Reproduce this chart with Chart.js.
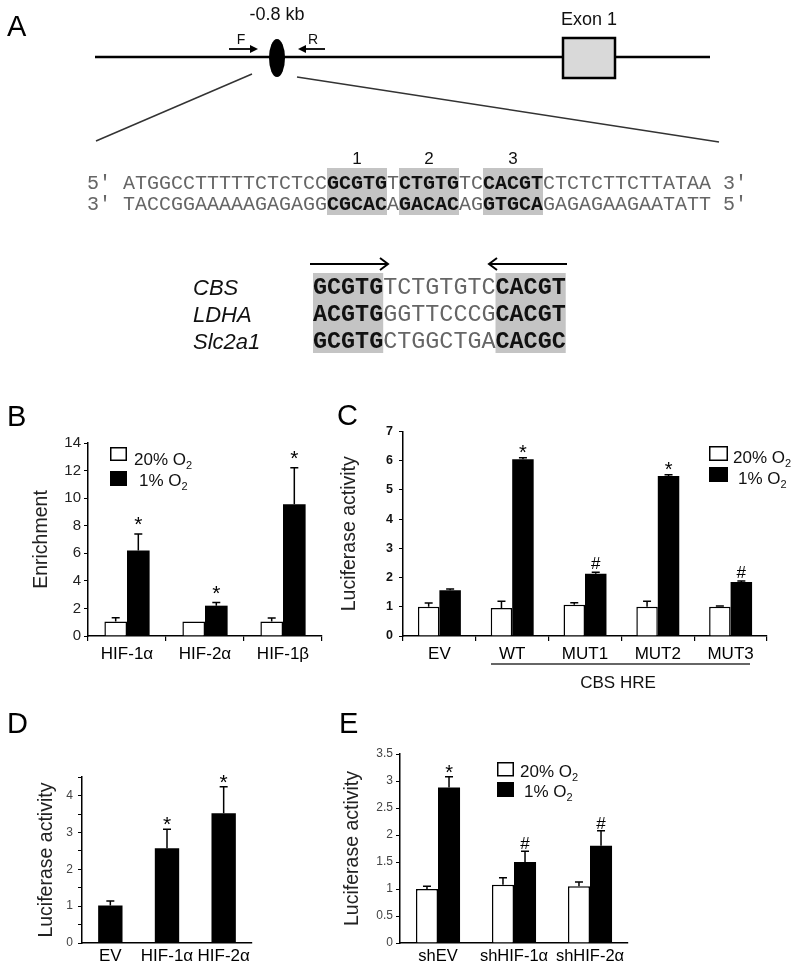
<!DOCTYPE html>
<html>
<head>
<meta charset="utf-8">
<title>CBS HRE</title>
<script src="https://cdn.jsdelivr.net/npm/chart.js@4.4.1/dist/chart.umd.min.js"></script>
<style>
  body { margin: 0; background: #fff; }
  #page { position: relative; width: 800px; height: 970px; overflow: hidden; font-family: "Liberation Sans", Arial, sans-serif; }
  #page canvas { position: absolute; }
  #overlay { position: absolute; left: 0; top: 0; pointer-events: none; }
</style>
</head>
<body>
<div id="page">
  <canvas id="chartB" width="302" height="239" style="left:26px;top:431px;width:302px;height:239px"></canvas>
  <canvas id="chartC" width="439" height="252" style="left:334px;top:418px;width:439px;height:252px"></canvas>
  <canvas id="chartD" width="227" height="205" style="left:31px;top:765px;width:227px;height:205px"></canvas>
  <canvas id="chartE" width="297" height="228" style="left:337px;top:742px;width:297px;height:228px"></canvas>

  <svg id="overlay" width="800" height="970" xmlns="http://www.w3.org/2000/svg">
    <!-- panel letters -->
    <g font-family="'Liberation Sans', Arial, sans-serif" font-size="29" fill="#000">
      <text x="7" y="36">A</text>
      <text x="7" y="426">B</text>
      <text x="337" y="425">C</text>
      <text x="7" y="733">D</text>
      <text x="339" y="733">E</text>
    </g>

    <!-- panel A: promoter map -->
    <g font-family="'Liberation Sans Narrow', 'Liberation Sans', Arial, sans-serif" fill="#111">
      <line x1="95" y1="57" x2="710" y2="57" stroke="#000" stroke-width="2.5"/>
      <ellipse cx="277" cy="58" rx="8" ry="19" fill="#000"/>
      <rect x="563" y="38" width="52" height="40" fill="#d9d9d9" stroke="#000" stroke-width="2.5"/>
      <text x="589" y="25" font-size="18" text-anchor="middle">Exon 1</text>
      <text x="277" y="20" font-size="18" text-anchor="middle">-0.8 kb</text>
      <line x1="229" y1="49" x2="252" y2="49" stroke="#000" stroke-width="1.8"/>
      <path d="M258 49 L250 45 L250 53 Z" fill="#000"/>
      <text x="241" y="44" font-size="14" text-anchor="middle">F</text>
      <line x1="325" y1="49" x2="304" y2="49" stroke="#000" stroke-width="1.8"/>
      <path d="M298 49 L306 45 L306 53 Z" fill="#000"/>
      <text x="313" y="44" font-size="14" text-anchor="middle">R</text>
      <line x1="252" y1="74" x2="96" y2="141" stroke="#333" stroke-width="1.5"/>
      <line x1="297" y1="77" x2="719" y2="142" stroke="#333" stroke-width="1.5"/>
      <g font-size="17" text-anchor="middle">
        <text x="357" y="164">1</text>
        <text x="429" y="164">2</text>
        <text x="513" y="164">3</text>
      </g>
    </g>
    <g id="seqTop"></g>
    <g id="seqBottom"></g>
    <g stroke="#000" stroke-width="2" fill="none">
      <line x1="310" y1="264" x2="388" y2="264"/>
      <polyline points="380,258 388,264 380,270"/>
      <line x1="567" y1="264" x2="489" y2="264"/>
      <polyline points="497,258 489,264 497,270"/>
    </g>
    <g font-family="'Liberation Sans', Arial, sans-serif" font-size="22" font-style="italic" fill="#111">
      <text x="193" y="295">CBS</text>
      <text x="193" y="322">LDHA</text>
      <text x="193" y="349">Slc2a1</text>
    </g>

    <!-- legends -->
    <g font-family="'Liberation Sans', Arial, sans-serif" font-size="17" fill="#111">
      <rect x="110.75" y="447.75" width="15.5" height="12.5" fill="#fff" stroke="#000" stroke-width="1.5"/>
      <rect x="110" y="471" width="17" height="15" fill="#000"/>
      <text x="134" y="465">20% O<tspan font-size="11" dy="4">2</tspan></text>
      <text x="139" y="486">1% O<tspan font-size="11" dy="4">2</tspan></text>

      <rect x="709.75" y="446.75" width="17.5" height="13.5" fill="#fff" stroke="#000" stroke-width="1.5"/>
      <rect x="709" y="467" width="19" height="15" fill="#000"/>
      <text x="733" y="463">20% O<tspan font-size="11" dy="4">2</tspan></text>
      <text x="738" y="484">1% O<tspan font-size="11" dy="4">2</tspan></text>

      <rect x="497.75" y="762.75" width="15.5" height="13" fill="#fff" stroke="#000" stroke-width="1.5"/>
      <rect x="497" y="782" width="17" height="15" fill="#000"/>
      <text x="520" y="777">20% O<tspan font-size="11" dy="4">2</tspan></text>
      <text x="524" y="797">1% O<tspan font-size="11" dy="4">2</tspan></text>
    </g>

    <!-- panel C bracket -->
    <line x1="491" y1="664" x2="750" y2="664" stroke="#333" stroke-width="1.5"/>
    <text x="618" y="688" font-family="'Liberation Sans', Arial, sans-serif" font-size="17" text-anchor="middle" fill="#111">CBS HRE</text>
  </svg>
</div>

<script>
// ---------- chart values ----------
// B: ChIP enrichment
var bLabels = ['HIF-1α', 'HIF-2α', 'HIF-1β'];
var bNormoxia = [1.05, 1.05, 1.05];
var bNormoxiaErr = [0.27, 0, 0.25];
var bHypoxia = [6.2, 2.2, 9.55];
var bHypoxiaErr = [1.2, 0.23, 2.65];
var bMarks = ['*', '*', '*'];
var bMax = 14, bStep = 2;

// C: CBS HRE reporter
var cLabels = ['EV', 'WT', 'MUT1', 'MUT2', 'MUT3'];
var cNormoxia = [1.0, 0.96, 1.07, 1.0, 1.0];
var cNormoxiaErr = [0.13, 0.23, 0.07, 0.19, 0.03];
var cHypoxia = [1.57, 6.05, 2.13, 5.48, 1.85];
var cHypoxiaErr = [0.04, 0.05, 0.05, 0.04, 0.03];
var cMarks = ['', '*', '#', '*', '#'];
var cMax = 7, cStep = 1;

// D: HIF overexpression
var dLabels = ['EV', 'HIF-1α', 'HIF-2α'];
var dValues = [1.02, 2.57, 3.52];
var dErr = [0.12, 0.52, 0.72];
var dMarks = ['', '*', '*'];
var dMax = 4.5, dStep = 0.5;

// E: HIF knockdown
var eLabels = ['shEV', 'shHIF-1α', 'shHIF-2α'];
var eNormoxia = [1.0, 1.08, 1.05];
var eNormoxiaErr = [0.05, 0.13, 0.08];
var eHypoxia = [2.88, 1.5, 1.8];
var eHypoxiaErr = [0.2, 0.2, 0.28];
var eMarks = ['*', '#', '#'];
var eMax = 3.5, eStep = 0.5;

// ---------- panel A sequences ----------
var topRows = ['5′ ATGGCCTTTTTCTCTCCGCGTGTCTGTGTCCACGTCTCTCTTCTTATAA 3′',
               '3′ TACCGGAAAAAGAGAGGCGCACAGACACAGGTGCAGAGAGAAGAATATT 5′'];
var topBoxes = [[20, 24], [26, 30], [33, 37]];
var hreRows = ['GCGTGTCTGTGTCCACGT', 'ACGTGGGTTCCCGCACGT', 'GCGTGCTGGCTGACACGC'];
var hreBoxes = [[0, 4], [13, 17]];

var SVGNS = 'http://www.w3.org/2000/svg';
function svgEl(tag, attrs, parent) {
  var el = document.createElementNS(SVGNS, tag);
  for (var k in attrs) el.setAttribute(k, attrs[k]);
  parent.appendChild(el);
  return el;
}
function inBox(i, boxes) {
  return boxes.some(function (b) { return i >= b[0] && i <= b[1]; });
}
// monospace block: grey boxes behind, each letter placed on the fixed pitch
function drawSeq(group, rows, boxes, x0, base0, rowGap, size, boxTop, boxBottom) {
  var cw = size * 0.6;
  boxes.forEach(function (b) {
    svgEl('rect', { x: x0 + b[0] * cw, y: boxTop, width: (b[1] - b[0] + 1) * cw, height: boxBottom - boxTop, fill: '#c4c4c4' }, group);
  });
  rows.forEach(function (row, r) {
    for (var i = 0; i < row.length; i++) {
      if (row[i] === ' ') continue;
      var hl = inBox(i, boxes);
      var t = svgEl('text', {
        x: x0 + i * cw + cw / 2, y: base0 + r * rowGap, 'text-anchor': 'middle',
        'font-family': "'Liberation Mono', 'DejaVu Sans Mono', monospace", 'font-size': size,
        'font-weight': hl ? 'bold' : 'normal', fill: hl ? '#111' : '#666'
      }, group);
      t.textContent = row[i];
    }
  });
}
drawSeq(document.getElementById('seqTop'), topRows, topBoxes, 87, 189, 21, 20, 168, 215);
drawSeq(document.getElementById('seqBottom'), hreRows, hreBoxes, 313, 294, 27, 23.4, 273, 353);

// ---------- charts ----------
Chart.defaults.font.family = '"Liberation Sans", Arial, sans-serif';
Chart.defaults.color = '#111';

// error bars (upper half only) plus significance marks
var errorBars = {
  id: 'errorBars',
  afterDatasetsDraw: function (chart, args, opts) {
    var ctx = chart.ctx, ys = chart.scales.y;
    chart.data.datasets.forEach(function (ds, di) {
      chart.getDatasetMeta(di).data.forEach(function (bar, i) {
        var e = ds.errors ? ds.errors[i] : 0;
        var top = ys.getPixelForValue(ds.data[i] + e);
        ctx.save();
        ctx.strokeStyle = '#000';
        ctx.lineWidth = 1.5;
        if (e > 0) {
          ctx.beginPath();
          ctx.moveTo(bar.x, bar.y);
          ctx.lineTo(bar.x, top);
          ctx.moveTo(bar.x - 4, top);
          ctx.lineTo(bar.x + 4, top);
          ctx.stroke();
        }
        if (ds.marks && ds.marks[i]) {
          var mk = ds.marks[i];
          ctx.font = mk === '*' ? opts.starFont : opts.font;
          ctx.fillStyle = '#000';
          ctx.textAlign = 'center';
          ctx.textBaseline = 'alphabetic';
          var m = ctx.measureText(mk);
          var cy = top - opts.gap;
          ctx.fillText(mk, bar.x, cy + (m.actualBoundingBoxAscent - m.actualBoundingBoxDescent) / 2);
        }
        ctx.restore();
      });
    });
  }
};

function whiteSet(data, err) {
  return { label: '20% O2', data: data, errors: err, backgroundColor: '#fff', borderColor: '#000', borderWidth: 1.5, borderSkipped: 'bottom' };
}
function blackSet(data, err, marks) {
  return { label: '1% O2', data: data, errors: err, marks: marks, backgroundColor: '#000', borderColor: '#000', borderWidth: 0 };
}

function makeChart(id, labels, datasets, o) {
  return new Chart(document.getElementById(id), {
    type: 'bar',
    data: { labels: labels, datasets: datasets },
    options: {
      responsive: false,
      animation: false,
      devicePixelRatio: 1,
      events: [],
      layout: { padding: { left: 0, top: 12, right: 6, bottom: 0 } },
      datasets: { bar: { categoryPercentage: o.cat, barPercentage: o.bar } },
      plugins: {
        legend: { display: false },
        tooltip: { enabled: false },
        errorBars: { gap: o.gap, font: o.markFont, starFont: o.starFont }
      },
      scales: {
        x: {
          grid: { offset: true, drawOnChartArea: false, drawTicks: o.xTicks, tickLength: 5, color: '#000', lineWidth: 1.2 },
          border: { color: '#000', width: 1.5 },
          ticks: { font: { size: o.xFont }, color: '#000', padding: o.xPad, maxRotation: 0, autoSkip: false },
          afterFit: function (s) { s.height = o.xh; }
        },
        y: {
          min: 0,
          max: o.max,
          ticks: { stepSize: o.step, font: o.yFont, color: o.yColor, padding: o.yPad, callback: o.fmt },
          grid: { drawOnChartArea: false, tickLength: 4, color: '#000' },
          border: { color: '#000', width: 1.5 },
          title: { display: true, text: o.title, font: { size: 19.5 }, color: '#222', padding: { top: 4, bottom: 4 } },
          afterFit: function (s) { s.width = o.yw; }
        }
      }
    },
    plugins: [errorBars]
  });
}

var plain = function (v) { return v; };

makeChart('chartB', bLabels, [whiteSet(bNormoxia, bNormoxiaErr), blackSet(bHypoxia, bHypoxiaErr, bMarks)], {
  cat: 0.58, bar: 1, max: bMax, step: bStep, title: 'Enrichment', yw: 62, xh: 34,
  xTicks: true, xFont: 17, xPad: 3, yFont: { size: 15 }, yColor: '#222', yPad: 3, fmt: plain,
  gap: 13, markFont: '17px "Liberation Sans", Arial', starFont: '21px "Liberation Sans", Arial'
});

makeChart('chartC', cLabels, [whiteSet(cNormoxia, cNormoxiaErr), blackSet(cHypoxia, cHypoxiaErr, cMarks)], {
  cat: 0.59, bar: 1, max: cMax, step: cStep, title: 'Luciferase activity', yw: 69, xh: 34,
  xTicks: true, xFont: 17, xPad: 3, yFont: { size: 12.5, weight: 'bold' }, yColor: '#111', yPad: 6, fmt: plain,
  gap: 9, markFont: '17px "Liberation Sans", Arial', starFont: '20px "Liberation Sans", Arial'
});

makeChart('chartD', dLabels, [blackSet(dValues, dErr, dMarks)], {
  cat: 1, bar: 0.43, max: dMax, step: dStep, title: 'Luciferase activity', yw: 51, xh: 27,
  xTicks: false, xFont: 17, xPad: 3, yFont: { size: 12 }, yColor: '#444', yPad: 5,
  fmt: function (v) { return v % 1 === 0 ? v : ''; },
  gap: 8, markFont: '17px "Liberation Sans", Arial', starFont: '21px "Liberation Sans", Arial'
});

makeChart('chartE', eLabels, [whiteSet(eNormoxia, eNormoxiaErr), blackSet(eHypoxia, eHypoxiaErr, eMarks)], {
  cat: 0.58, bar: 1, max: eMax, step: eStep, title: 'Luciferase activity', yw: 63, xh: 27,
  xTicks: false, xFont: 16.5, xPad: 4, yFont: { size: 12 }, yColor: '#444', yPad: 3, fmt: plain,
  gap: 8, markFont: '17px "Liberation Sans", Arial', starFont: '20px "Liberation Sans", Arial'
});
</script>
</body>
</html>
